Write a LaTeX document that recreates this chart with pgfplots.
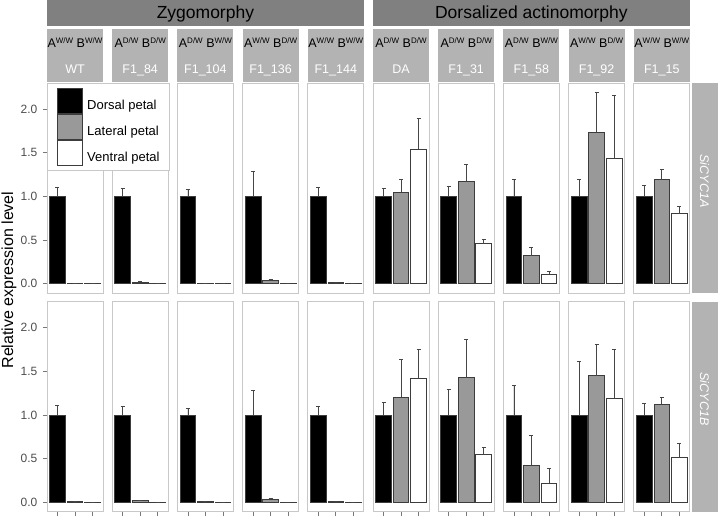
\documentclass[border=0pt]{standalone}
\usepackage{fontspec}
\setmainfont{Liberation Sans}
\usepackage{pgfplots}
\pgfplotsset{compat=1.18}
\definecolor{pborder}{RGB}{200,200,200}
\definecolor{stripdark}{RGB}{128,128,128}
\definecolor{stripl}{RGB}{179,179,179}
\definecolor{latg}{RGB}{153,153,153}
\definecolor{bardraw}{RGB}{60,60,60}
\definecolor{errc}{RGB}{70,70,70}
\definecolor{tickl}{RGB}{77,77,77}
\definecolor{tickc}{RGB}{120,120,120}
\pgfplotsset{
  panel/.style={
    scale only axis, width=56pt, height=210pt, anchor=north west,
    xmin=0.4, xmax=3.6, ymin=-0.107, ymax=2.30,
    axis line style={draw=pborder, line width=0.9pt},
    xtick={1,2,3}, xticklabels={},
    ytick=\empty,
    tick pos=left, tick align=outside, major tick length=4pt,
    tick style={draw=tickc, line width=0.7pt},
    /pgf/number format/assume math mode=true,
    yticklabel style={font=\fontsize{12}{12}\selectfont, text=tickl, anchor=east, inner sep=0pt, xshift=-5.5pt,
      /pgf/number format/fixed, /pgf/number format/fixed zerofill, /pgf/number format/precision=1},
  },
  leftcol/.style={ytick={0,0.5,1,1.5,2}},
  toprow/.style={xtick=\empty},
  barst/.style={ybar, bar width=0.9, draw=bardraw, line width=0.8pt,
    error bars/y dir=plus, error bars/y explicit,
    error bars/error bar style={draw=errc, line width=0.7pt},
    error bars/error mark options={rotate=90, draw=errc, line width=0.7pt, mark size=2pt}},
}
\newcommand{\panel}[9]{%
  \begin{axis}[panel, at={(#1pt,#2pt)}, #9]
  \addplot[fill=black, barst] coordinates {(1,#3) +- (0,#4)};
  \addplot[fill=latg, barst] coordinates {(2,#5) +- (0,#6)};
  \addplot[fill=white, barst] coordinates {(3,#7) +- (0,#8)};
  \end{axis}}
\newcommand{\geno}[3]{%
  \fill[stripl] (#1pt,-29.3pt) rectangle ++(56pt,-53pt);
  \node[anchor=base, inner sep=0pt, font=\fontsize{12.5}{12.5}\selectfont] at (#1pt+28pt,-47.3pt)
    {A\raisebox{3.4pt}{\fontsize{8}{8}\selectfont #2} B\raisebox{3.4pt}{\fontsize{8}{8}\selectfont #3}};}
\newcommand{\strain}[2]{%
  \node[anchor=base, inner sep=0pt, text=white, font=\fontsize{12.5}{12.5}\selectfont] at (#1pt+28pt,-74pt) {#2};}
\begin{document}
\begin{tikzpicture}
\useasboundingbox (0pt,0pt) rectangle (718pt,-516pt);
% ---- row 1: SiCYC1A
\panel{47}{-83}{1.0}{0.108}{0.005}{0.0}{0.003}{0.0}{toprow,leftcol}
\panel{112.2}{-83}{1.0}{0.096}{0.015}{0.008}{0.003}{0.0}{toprow}
\panel{177.4}{-83}{1.0}{0.080}{0.005}{0.0}{0.003}{0.0}{toprow}
\panel{242.6}{-83}{1.0}{0.288}{0.035}{0.010}{0.003}{0.0}{toprow}
\panel{307.8}{-83}{1.0}{0.100}{0.010}{0.005}{0.003}{0.0}{toprow}
\panel{373}{-83}{1.0}{0.090}{1.047}{0.153}{1.544}{0.346}{toprow}
\panel{438.2}{-83}{1.0}{0.120}{1.173}{0.192}{0.459}{0.046}{toprow}
\panel{503.4}{-83}{1.0}{0.200}{0.320}{0.093}{0.110}{0.028}{toprow}
\panel{568.6}{-83}{1.0}{0.196}{1.739}{0.455}{1.437}{0.722}{toprow}
\panel{633.8}{-83}{1.0}{0.130}{1.190}{0.117}{0.803}{0.087}{toprow}
% ---- row 2: SiCYC1B
\panel{47}{-301.5}{1.0}{0.109}{0.005}{0.0}{0.003}{0.0}{leftcol}
\panel{112.2}{-301.5}{1.0}{0.097}{0.015}{0.008}{0.003}{0.0}{}
\panel{177.4}{-301.5}{1.0}{0.078}{0.005}{0.0}{0.003}{0.0}{}
\panel{242.6}{-301.5}{1.0}{0.280}{0.034}{0.011}{0.003}{0.0}{}
\panel{307.8}{-301.5}{1.0}{0.100}{0.010}{0.005}{0.003}{0.0}{}
\panel{373}{-301.5}{1.0}{0.140}{1.200}{0.434}{1.420}{0.335}{}
\panel{438.2}{-301.5}{1.0}{0.295}{1.428}{0.442}{0.544}{0.080}{}
\panel{503.4}{-301.5}{1.0}{0.337}{0.423}{0.343}{0.217}{0.167}{}
\panel{568.6}{-301.5}{1.0}{0.611}{1.451}{0.359}{1.189}{0.563}{}
\panel{633.8}{-301.5}{1.0}{0.131}{1.120}{0.087}{0.514}{0.160}{}
% ---- top strips
\fill[stripdark] (47pt,0pt) rectangle (363.8pt,-26pt);
\fill[stripdark] (373pt,0pt) rectangle (689.8pt,-26pt);
\node[anchor=base, inner sep=0pt, font=\fontsize{17.5}{17.5}\selectfont] at (205.4pt,-19pt) {Zygomorphy};
\node[anchor=base, inner sep=0pt, font=\fontsize{17.5}{17.5}\selectfont] at (531.4pt,-19pt) {Dorsalized actinomorphy};
% ---- genotype strips
\geno{47}{W/W}{W/W}\strain{47}{WT}
\geno{112.2}{D/W}{D/W}\strain{112.2}{F1\_84}
\geno{177.4}{D/W}{W/W}\strain{177.4}{F1\_104}
\geno{242.6}{W/W}{D/W}\strain{242.6}{F1\_136}
\geno{307.8}{W/W}{W/W}\strain{307.8}{F1\_144}
\geno{373}{D/W}{D/W}\strain{373}{DA}
\geno{438.2}{D/W}{D/W}\strain{438.2}{F1\_31}
\geno{503.4}{D/W}{W/W}\strain{503.4}{F1\_58}
\geno{568.6}{W/W}{D/W}\strain{568.6}{F1\_92}
\geno{633.8}{W/W}{W/W}\strain{633.8}{F1\_15}
% ---- right strips
\fill[stripl] (691.5pt,-83pt) rectangle (718pt,-293pt);
\fill[stripl] (691.5pt,-301.5pt) rectangle (718pt,-511.5pt);
\node[rotate=-90, text=white, font=\itshape\fontsize{12.5}{12.5}\selectfont] at (704.5pt,-181pt) {SiCYC1A};
\node[rotate=-90, text=white, font=\itshape\fontsize{12.5}{12.5}\selectfont] at (704.5pt,-399pt) {SiCYC1B};
% ---- y label
\node[rotate=90, font=\fontsize{16}{16}\selectfont] at (9pt,-280pt) {Relative expression level};
% ---- legend
\begin{axis}[hide axis, scale only axis, width=121pt, height=85pt, anchor=north west, at={(47pt,-83pt)},
  xmin=0, xmax=1, ymin=0, ymax=1,
  legend cell align=left,
  legend image code/.code={\draw[#1, draw=bardraw, line width=0.8pt] (0pt,-8pt) rectangle (25pt,17pt);},
  legend style={at={(0,1)}, anchor=north west, draw=pborder, line width=0.9pt, fill=white,
    inner xsep=10pt, inner ysep=5pt, row sep=0pt, column sep=4pt,
    nodes={inner sep=0pt}, font=\fontsize{13}{13}\selectfont}]
\addlegendimage{fill=black}\addlegendentry{Dorsal petal}
\addlegendimage{fill=latg}\addlegendentry{Lateral petal}
\addlegendimage{fill=white}\addlegendentry{Ventral petal}
\end{axis}
\end{tikzpicture}
\end{document}
